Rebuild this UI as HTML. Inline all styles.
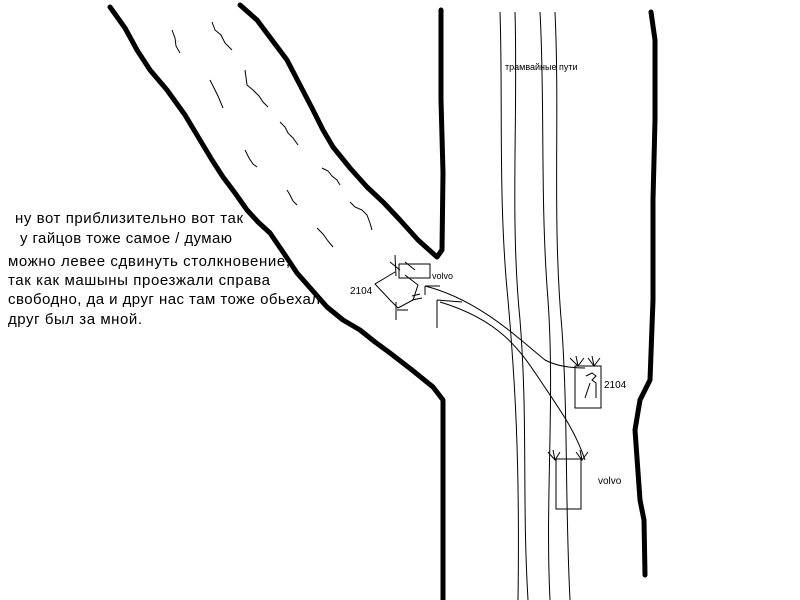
<!DOCTYPE html>
<html><head><meta charset="utf-8"><style>
html,body{margin:0;padding:0;background:#fff;width:800px;height:600px;overflow:hidden}
svg{display:block}
text{font-family:"Liberation Sans",sans-serif;fill:#000}
</style></head><body>
<svg width="800" height="600" viewBox="0 0 800 600" xmlns="http://www.w3.org/2000/svg">
<g font-size="15">
<text x="15" y="223" textLength="228" lengthAdjust="spacing">ну вот приблизительно вот так</text>
<text x="20" y="243" textLength="212" lengthAdjust="spacing">у гайцов тоже самое / думаю</text>
<text x="8" y="266" textLength="282" lengthAdjust="spacing">можно левее сдвинуть столкновение,</text>
<text x="8" y="285" textLength="262" lengthAdjust="spacing">так как машыны проезжали справа</text>
<text x="8" y="304" textLength="312" lengthAdjust="spacing">свободно, да и друг нас там тоже обьехал</text>
<text x="8" y="324" textLength="134" lengthAdjust="spacing">друг был за мной.</text>
</g>
<text x="505" y="70" font-size="9">трамвайные пути</text>
<text x="432" y="279" font-size="9">volvo</text>
<text x="350" y="294" font-size="10">2104</text>
<text x="604" y="388" font-size="10">2104</text>
<text x="598" y="484" font-size="10">volvo</text>
<g fill="none" stroke="#000" stroke-width="5" stroke-linejoin="round" stroke-linecap="round">
<polyline points="110,7 125,28 137,50 150,70 167,90 185,115 200,140 212,160 223,177 235,193 247,210 258,222 270,233 283,252 297,273 312,290 327,307 343,320 360,330 375,342 390,353 412,370 433,387 443,400 443,600"/>
<polyline points="240,5 257,20 272,40 287,60 300,85 313,110 323,130 333,147 350,168 367,187 384,203 400,220 418,240 437,257 442,250 443,173 441,100 441,10"/>
<polyline points="651,12 655,40 655,120 653,200 653,300 650,380 640,400 635,430 640,500 644,520 645,575"/>
</g>
<g fill="none" stroke="#000" stroke-width="1">
<path d="M500,12 C503,100 498,200 508,300 C515,380 520,460 518,600"/>
<path d="M515,12 C518,120 510,220 520,320 C528,420 522,500 528,600"/>
<path d="M540,12 C545,100 540,200 548,300 C555,400 545,500 550,600"/>
<path d="M555,12 C560,120 552,220 562,330 C568,420 565,500 570,600"/>
<path d="M425,286 C480,300 520,340 545,360 C560,368 580,368 585,368"/>
<path d="M440,302 C500,320 520,350 540,380 C560,410 575,430 585,460"/>
<rect x="399" y="264" width="31" height="14"/>
<path d="M395,272 L385,278 L375,284 L390,300 L398,308 L413,300 L418,285 L405,275"/>
<path d="M425,286 L425,295 M425,286 L440,286 M437,300 L462,302 M437,300 L437,328 M412,300 L422,298 M412,296 L420,294 M397,310 L408,310 M396,302 L396,320"/>
<path d="M395,255 L396,276 M390,262 L400,270 M405,262 L415,270"/>
<rect x="575" y="366" width="26" height="42"/>
<path d="M586,376 L592,373 L596,376 L592,380 L596,383 L596,398 M590,383 L585,398"/>
<path d="M576,356 L578,366 M570,358 L578,366 L584,358 M592,356 L594,366 M588,358 L594,366 L600,358"/>
<rect x="556" y="459" width="25" height="50"/>
<path d="M553,450 L555,460 M548,452 L555,460 L560,452 M580,450 L582,460 M576,452 L582,460 L588,452"/>
</g>
<g fill="none" stroke="#000" stroke-width="1">
<path d="M172,30 l3,8 l1,8 l4,7"/>
<path d="M212,22 l3,8 l6,5 l4,8 l7,7"/>
<path d="M210,80 l4,8 l4,8 l5,12"/>
<path d="M245,70 l2,15 l6,5 l6,6 l4,6 l5,5"/>
<path d="M280,122 l5,5 l3,6 l5,5 l5,7"/>
<path d="M245,150 l4,8 l4,6 l4,3"/>
<path d="M322,168 l6,3 l4,5 l5,4 l3,5"/>
<path d="M287,190 l3,5 l3,6 l4,4"/>
<path d="M350,202 l5,5 l7,3 l5,5 l3,8 l2,7"/>
<path d="M317,228 l6,6 l5,7 l5,6"/>
</g>
</svg>
</body></html>
